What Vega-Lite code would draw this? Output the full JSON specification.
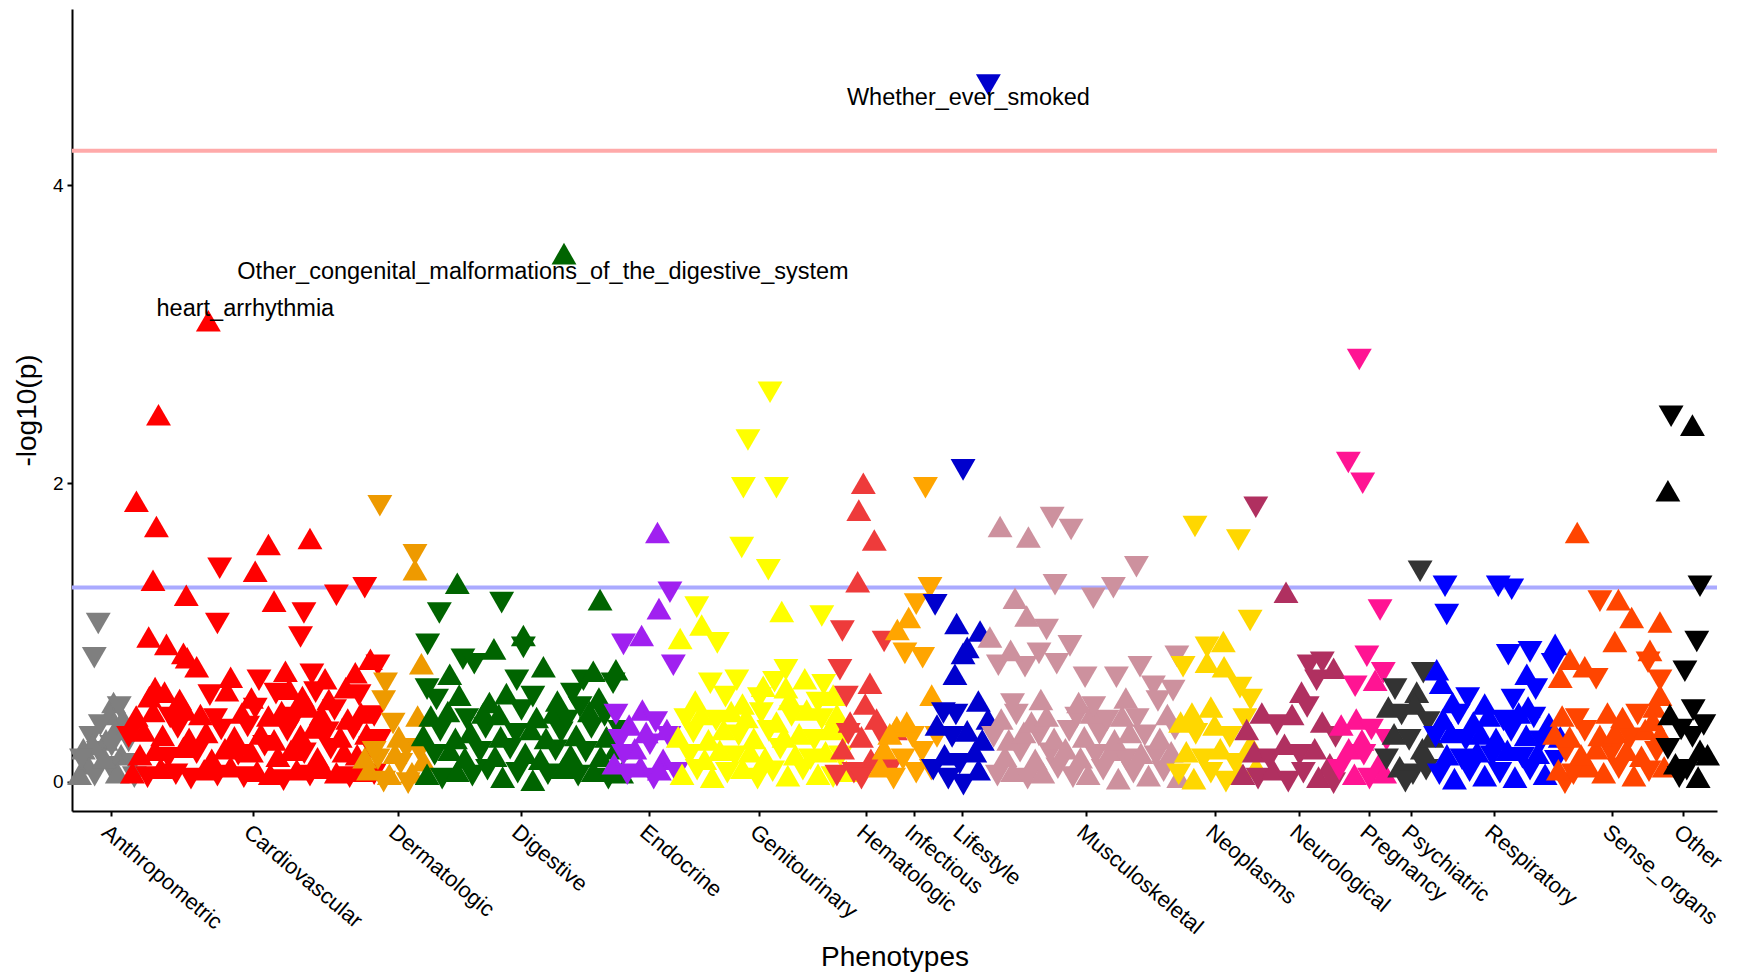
{
"$schema": "https://vega.github.io/schema/vega-lite/v6.json",
"width": 1645, "height": 802,
"autosize": {"type": "none"},
"padding": {"left": 72, "top": 9, "right": 23, "bottom": 164},
"background": "white",
"config": {"view": {"stroke": null}, "font": "Liberation Sans"},
"datasets": {"pts": [
{"c":"Anthropometric","x":13.9,"y":1.06,"s":"d"},{"c":"Anthropometric","x":11.8,"y":0.83,"s":"d"},
{"c":"Anthropometric","x":22,"y":0.53,"s":"u"},{"c":"Anthropometric","x":25,"y":0.5,"s":"d"},{"c":"Anthropometric","x":20,"y":0.45,"s":"u"},{"c":"Anthropometric","x":27,"y":0.42,"s":"u"},{"c":"Anthropometric","x":15,"y":0.38,"s":"d"},{"c":"Anthropometric","x":23,"y":0.35,"s":"u"},{"c":"Anthropometric","x":10,"y":0.3,"s":"d"},{"c":"Anthropometric","x":18,"y":0.28,"s":"u"},{"c":"Anthropometric","x":30,"y":0.27,"s":"d"},{"c":"Anthropometric","x":6,"y":0.22,"s":"u"},{"c":"Anthropometric","x":14,"y":0.2,"s":"d"},{"c":"Anthropometric","x":26,"y":0.18,"s":"u"},{"c":"Anthropometric","x":8,"y":0.12,"s":"u"},{"c":"Anthropometric","x":20,"y":0.1,"s":"d"},{"c":"Anthropometric","x":32,"y":0.12,"s":"d"},{"c":"Anthropometric","x":4,"y":0.05,"s":"u"},{"c":"Anthropometric","x":12,"y":0.04,"s":"d"},{"c":"Anthropometric","x":24,"y":0.06,"s":"u"},{"c":"Anthropometric","x":17,"y":0.16,"s":"u"},{"c":"Anthropometric","x":29,"y":0.36,"s":"u"},{"c":"Anthropometric","x":11,"y":0.25,"s":"u"},{"c":"Anthropometric","x":5,"y":0.15,"s":"d"},{"c":"Anthropometric","x":33,"y":0.03,"s":"d"},{"c":"Anthropometric","x":21,"y":0.24,"s":"d"},
{"c":"Cardiovascular","x":72.2,"y":3.09,"s":"u","n":"heart_arrhythmia"},
{"c":"Cardiovascular","x":45.8,"y":2.46,"s":"u"},{"c":"Cardiovascular","x":34.1,"y":1.88,"s":"u"},{"c":"Cardiovascular","x":44.7,"y":1.71,"s":"u"},{"c":"Cardiovascular","x":42.9,"y":1.35,"s":"u"},{"c":"Cardiovascular","x":60.5,"y":1.25,"s":"u"},{"c":"Cardiovascular","x":78.2,"y":1.43,"s":"d"},{"c":"Cardiovascular","x":77,"y":1.06,"s":"d"},{"c":"Cardiovascular","x":97,"y":1.41,"s":"u"},{"c":"Cardiovascular","x":104,"y":1.59,"s":"u"},{"c":"Cardiovascular","x":107,"y":1.21,"s":"u"},{"c":"Cardiovascular","x":122.8,"y":1.13,"s":"d"},{"c":"Cardiovascular","x":121,"y":0.97,"s":"d"},{"c":"Cardiovascular","x":126,"y":1.63,"s":"u"},{"c":"Cardiovascular","x":140,"y":1.25,"s":"d"},{"c":"Cardiovascular","x":155,"y":1.3,"s":"d"},{"c":"Cardiovascular","x":40.6,"y":0.97,"s":"u"},{"c":"Cardiovascular","x":50,"y":0.92,"s":"u"},{"c":"Cardiovascular","x":59,"y":0.86,"s":"u"},{"c":"Cardiovascular","x":61,"y":0.83,"s":"u"},{"c":"Cardiovascular","x":66,"y":0.77,"s":"u"},{"c":"Cardiovascular","x":44,"y":0.63,"s":"u"},{"c":"Cardiovascular","x":158,"y":0.82,"s":"u"},{"c":"Cardiovascular","x":162,"y":0.78,"s":"d"},
{"c":"Cardiovascular","x":32,"y":0.06,"s":"u"},{"c":"Cardiovascular","x":40,"y":0.03,"s":"d"},{"c":"Cardiovascular","x":47,"y":0.09,"s":"u"},{"c":"Cardiovascular","x":55,"y":0.05,"s":"d"},{"c":"Cardiovascular","x":63,"y":0.02,"s":"d"},{"c":"Cardiovascular","x":70,"y":0.08,"s":"u"},{"c":"Cardiovascular","x":77,"y":0.04,"s":"d"},{"c":"Cardiovascular","x":84,"y":0.1,"s":"u"},{"c":"Cardiovascular","x":91,"y":0.03,"s":"d"},{"c":"Cardiovascular","x":98,"y":0.07,"s":"u"},{"c":"Cardiovascular","x":105,"y":0.05,"s":"u"},{"c":"Cardiovascular","x":112,"y":0.01,"s":"d"},{"c":"Cardiovascular","x":119,"y":0.08,"s":"u"},{"c":"Cardiovascular","x":126,"y":0.04,"s":"d"},{"c":"Cardiovascular","x":133,"y":0.09,"s":"u"},{"c":"Cardiovascular","x":140,"y":0.06,"s":"u"},{"c":"Cardiovascular","x":147,"y":0.03,"s":"d"},{"c":"Cardiovascular","x":154,"y":0.07,"s":"u"},{"c":"Cardiovascular","x":160,"y":0.05,"s":"d"},
{"c":"Cardiovascular","x":36,"y":0.18,"s":"u"},{"c":"Cardiovascular","x":44,"y":0.21,"s":"u"},{"c":"Cardiovascular","x":51,"y":0.16,"s":"d"},{"c":"Cardiovascular","x":59,"y":0.23,"s":"u"},{"c":"Cardiovascular","x":66,"y":0.19,"s":"d"},{"c":"Cardiovascular","x":74,"y":0.15,"s":"u"},{"c":"Cardiovascular","x":81,"y":0.22,"s":"u"},{"c":"Cardiovascular","x":88,"y":0.18,"s":"d"},{"c":"Cardiovascular","x":95,"y":0.2,"s":"u"},{"c":"Cardiovascular","x":102,"y":0.24,"s":"d"},{"c":"Cardiovascular","x":109,"y":0.17,"s":"u"},{"c":"Cardiovascular","x":116,"y":0.21,"s":"u"},{"c":"Cardiovascular","x":123,"y":0.19,"s":"d"},{"c":"Cardiovascular","x":130,"y":0.16,"s":"u"},{"c":"Cardiovascular","x":137,"y":0.22,"s":"d"},{"c":"Cardiovascular","x":144,"y":0.2,"s":"u"},{"c":"Cardiovascular","x":151,"y":0.18,"s":"u"},{"c":"Cardiovascular","x":158,"y":0.23,"s":"d"},
{"c":"Cardiovascular","x":30,"y":0.3,"s":"d"},{"c":"Cardiovascular","x":38,"y":0.34,"s":"u"},{"c":"Cardiovascular","x":48,"y":0.31,"s":"u"},{"c":"Cardiovascular","x":56,"y":0.36,"s":"d"},{"c":"Cardiovascular","x":62,"y":0.29,"s":"u"},{"c":"Cardiovascular","x":71,"y":0.33,"s":"u"},{"c":"Cardiovascular","x":79,"y":0.35,"s":"d"},{"c":"Cardiovascular","x":86,"y":0.3,"s":"u"},{"c":"Cardiovascular","x":93,"y":0.37,"s":"d"},{"c":"Cardiovascular","x":100,"y":0.32,"s":"u"},{"c":"Cardiovascular","x":107,"y":0.28,"s":"u"},{"c":"Cardiovascular","x":114,"y":0.34,"s":"d"},{"c":"Cardiovascular","x":121,"y":0.31,"s":"u"},{"c":"Cardiovascular","x":128,"y":0.36,"s":"u"},{"c":"Cardiovascular","x":135,"y":0.33,"s":"d"},{"c":"Cardiovascular","x":142,"y":0.3,"s":"u"},{"c":"Cardiovascular","x":149,"y":0.35,"s":"d"},{"c":"Cardiovascular","x":156,"y":0.32,"s":"u"},{"c":"Cardiovascular","x":163,"y":0.28,"s":"d"},
{"c":"Cardiovascular","x":34,"y":0.44,"s":"u"},{"c":"Cardiovascular","x":43,"y":0.47,"s":"u"},{"c":"Cardiovascular","x":52,"y":0.43,"s":"d"},{"c":"Cardiovascular","x":60,"y":0.48,"s":"u"},{"c":"Cardiovascular","x":68,"y":0.45,"s":"u"},{"c":"Cardiovascular","x":76,"y":0.42,"s":"d"},{"c":"Cardiovascular","x":90,"y":0.46,"s":"u"},{"c":"Cardiovascular","x":97,"y":0.49,"s":"d"},{"c":"Cardiovascular","x":104,"y":0.44,"s":"u"},{"c":"Cardiovascular","x":111,"y":0.47,"s":"u"},{"c":"Cardiovascular","x":118,"y":0.43,"s":"d"},{"c":"Cardiovascular","x":125,"y":0.5,"s":"u"},{"c":"Cardiovascular","x":132,"y":0.45,"s":"u"},{"c":"Cardiovascular","x":139,"y":0.48,"s":"d"},{"c":"Cardiovascular","x":146,"y":0.42,"s":"u"},{"c":"Cardiovascular","x":153,"y":0.46,"s":"u"},{"c":"Cardiovascular","x":160,"y":0.44,"s":"d"},
{"c":"Cardiovascular","x":41,"y":0.57,"s":"u"},{"c":"Cardiovascular","x":49,"y":0.6,"s":"u"},{"c":"Cardiovascular","x":57,"y":0.55,"s":"u"},{"c":"Cardiovascular","x":73,"y":0.58,"s":"d"},{"c":"Cardiovascular","x":82,"y":0.61,"s":"u"},{"c":"Cardiovascular","x":95,"y":0.56,"s":"u"},{"c":"Cardiovascular","x":108,"y":0.59,"s":"d"},{"c":"Cardiovascular","x":115,"y":0.62,"s":"u"},{"c":"Cardiovascular","x":122,"y":0.57,"s":"u"},{"c":"Cardiovascular","x":129,"y":0.6,"s":"d"},{"c":"Cardiovascular","x":136,"y":0.55,"s":"u"},{"c":"Cardiovascular","x":145,"y":0.63,"s":"u"},{"c":"Cardiovascular","x":152,"y":0.58,"s":"d"},
{"c":"Cardiovascular","x":84,"y":0.7,"s":"u"},{"c":"Cardiovascular","x":99,"y":0.68,"s":"d"},{"c":"Cardiovascular","x":113,"y":0.74,"s":"u"},{"c":"Cardiovascular","x":127,"y":0.72,"s":"d"},{"c":"Cardiovascular","x":134,"y":0.69,"s":"u"},{"c":"Cardiovascular","x":150,"y":0.73,"s":"u"},
{"c":"Dermatologic","x":163,"y":1.85,"s":"d"},{"c":"Dermatologic","x":181.6,"y":1.52,"s":"d"},{"c":"Dermatologic","x":181.6,"y":1.42,"s":"u"},{"c":"Dermatologic","x":185,"y":0.79,"s":"u"},{"c":"Dermatologic","x":166,"y":0.66,"s":"d"},{"c":"Dermatologic","x":165,"y":0.54,"s":"d"},{"c":"Dermatologic","x":170,"y":0.39,"s":"d"},{"c":"Dermatologic","x":183,"y":0.44,"s":"u"},
{"c":"Dermatologic","x":157,"y":0.08,"s":"u"},{"c":"Dermatologic","x":162,"y":0.15,"s":"d"},{"c":"Dermatologic","x":168,"y":0.05,"s":"u"},{"c":"Dermatologic","x":174,"y":0.12,"s":"d"},{"c":"Dermatologic","x":180,"y":0.06,"s":"u"},{"c":"Dermatologic","x":186,"y":0.14,"s":"u"},{"c":"Dermatologic","x":160,"y":0.2,"s":"d"},{"c":"Dermatologic","x":171,"y":0.19,"s":"u"},{"c":"Dermatologic","x":177,"y":0.22,"s":"d"},{"c":"Dermatologic","x":184,"y":0.2,"s":"d"},{"c":"Dermatologic","x":165,"y":0.0,"s":"d"},{"c":"Dermatologic","x":178,"y":-0.01,"s":"d"},{"c":"Dermatologic","x":155,"y":0.16,"s":"u"},{"c":"Dermatologic","x":173,"y":0.3,"s":"u"},
{"c":"Digestive","x":260.5,"y":3.54,"s":"u","n":"Other_congenital_malformations_of_the_digestive_system"},
{"c":"Digestive","x":204,"y":1.33,"s":"u"},{"c":"Digestive","x":194.5,"y":1.13,"s":"d"},{"c":"Digestive","x":227.5,"y":1.2,"s":"d"},{"c":"Digestive","x":279.6,"y":1.22,"s":"u"},{"c":"Digestive","x":188.3,"y":0.92,"s":"d"},{"c":"Digestive","x":223.4,"y":0.89,"s":"u"},{"c":"Digestive","x":239,"y":0.98,"s":"u"},{"c":"Digestive","x":239,"y":0.9,"s":"d"},{"c":"Digestive","x":207,"y":0.82,"s":"d"},{"c":"Digestive","x":213,"y":0.79,"s":"d"},{"c":"Digestive","x":200,"y":0.72,"s":"u"},{"c":"Digestive","x":235.5,"y":0.68,"s":"d"},{"c":"Digestive","x":249.6,"y":0.77,"s":"u"},{"c":"Digestive","x":230,"y":0.59,"s":"u"},{"c":"Digestive","x":270.8,"y":0.68,"s":"d"},{"c":"Digestive","x":276,"y":0.74,"s":"u"},{"c":"Digestive","x":288,"y":0.75,"s":"u"},{"c":"Digestive","x":286.5,"y":0.66,"s":"d"},{"c":"Digestive","x":269,"y":0.5,"s":"d"},{"c":"Digestive","x":217.8,"y":0.46,"s":"u"},{"c":"Digestive","x":188,"y":0.62,"s":"d"},
{"c":"Digestive","x":188,"y":0.05,"s":"u"},{"c":"Digestive","x":196,"y":0.02,"s":"d"},{"c":"Digestive","x":204,"y":0.07,"s":"u"},{"c":"Digestive","x":212,"y":0.04,"s":"d"},{"c":"Digestive","x":220,"y":0.08,"s":"d"},{"c":"Digestive","x":228,"y":0.03,"s":"u"},{"c":"Digestive","x":236,"y":0.06,"s":"d"},{"c":"Digestive","x":244,"y":0.01,"s":"u"},{"c":"Digestive","x":252,"y":0.05,"s":"d"},{"c":"Digestive","x":260,"y":0.09,"s":"u"},{"c":"Digestive","x":268,"y":0.04,"s":"d"},{"c":"Digestive","x":276,"y":0.07,"s":"u"},{"c":"Digestive","x":284,"y":0.02,"s":"d"},{"c":"Digestive","x":291,"y":0.06,"s":"u"},
{"c":"Digestive","x":192,"y":0.18,"s":"d"},{"c":"Digestive","x":200,"y":0.21,"s":"u"},{"c":"Digestive","x":208,"y":0.16,"s":"u"},{"c":"Digestive","x":216,"y":0.2,"s":"d"},{"c":"Digestive","x":224,"y":0.17,"s":"u"},{"c":"Digestive","x":232,"y":0.22,"s":"d"},{"c":"Digestive","x":240,"y":0.19,"s":"u"},{"c":"Digestive","x":248,"y":0.15,"s":"u"},{"c":"Digestive","x":256,"y":0.21,"s":"d"},{"c":"Digestive","x":264,"y":0.18,"s":"u"},{"c":"Digestive","x":272,"y":0.2,"s":"d"},{"c":"Digestive","x":280,"y":0.17,"s":"u"},{"c":"Digestive","x":288,"y":0.22,"s":"u"},
{"c":"Digestive","x":186,"y":0.31,"s":"u"},{"c":"Digestive","x":195,"y":0.34,"s":"d"},{"c":"Digestive","x":203,"y":0.29,"s":"u"},{"c":"Digestive","x":211,"y":0.33,"s":"u"},{"c":"Digestive","x":219,"y":0.36,"s":"d"},{"c":"Digestive","x":227,"y":0.3,"s":"u"},{"c":"Digestive","x":235,"y":0.32,"s":"d"},{"c":"Digestive","x":243,"y":0.35,"s":"u"},{"c":"Digestive","x":251,"y":0.29,"s":"u"},{"c":"Digestive","x":259,"y":0.33,"s":"d"},{"c":"Digestive","x":267,"y":0.31,"s":"u"},{"c":"Digestive","x":275,"y":0.36,"s":"d"},{"c":"Digestive","x":283,"y":0.3,"s":"u"},{"c":"Digestive","x":290,"y":0.34,"s":"d"},
{"c":"Digestive","x":190,"y":0.44,"s":"u"},{"c":"Digestive","x":199,"y":0.47,"s":"u"},{"c":"Digestive","x":209,"y":0.42,"s":"d"},{"c":"Digestive","x":226,"y":0.45,"s":"u"},{"c":"Digestive","x":238,"y":0.48,"s":"d"},{"c":"Digestive","x":246,"y":0.43,"s":"u"},{"c":"Digestive","x":255,"y":0.46,"s":"u"},{"c":"Digestive","x":262,"y":0.41,"s":"d"},{"c":"Digestive","x":274,"y":0.47,"s":"u"},{"c":"Digestive","x":282,"y":0.44,"s":"d"},
{"c":"Digestive","x":193,"y":0.55,"s":"d"},{"c":"Digestive","x":205,"y":0.58,"s":"u"},{"c":"Digestive","x":221,"y":0.53,"s":"u"},{"c":"Digestive","x":244,"y":0.57,"s":"d"},{"c":"Digestive","x":257,"y":0.54,"s":"u"},{"c":"Digestive","x":265,"y":0.59,"s":"d"},{"c":"Digestive","x":279,"y":0.56,"s":"u"},
{"c":"Endocrine","x":310,"y":1.67,"s":"u"},{"c":"Endocrine","x":316.6,"y":1.27,"s":"d"},{"c":"Endocrine","x":310.8,"y":1.16,"s":"u"},{"c":"Endocrine","x":301.6,"y":0.98,"s":"u"},{"c":"Endocrine","x":318.4,"y":0.78,"s":"d"},{"c":"Endocrine","x":292,"y":0.92,"s":"d"},
{"c":"Endocrine","x":288,"y":0.45,"s":"d"},{"c":"Endocrine","x":295,"y":0.38,"s":"u"},{"c":"Endocrine","x":302,"y":0.48,"s":"u"},{"c":"Endocrine","x":309,"y":0.4,"s":"d"},{"c":"Endocrine","x":316,"y":0.3,"s":"d"},{"c":"Endocrine","x":290,"y":0.28,"s":"d"},{"c":"Endocrine","x":298,"y":0.22,"s":"u"},{"c":"Endocrine","x":306,"y":0.25,"s":"d"},{"c":"Endocrine","x":313,"y":0.15,"s":"u"},{"c":"Endocrine","x":320,"y":0.06,"s":"d"},{"c":"Endocrine","x":287,"y":0.12,"s":"u"},{"c":"Endocrine","x":294,"y":0.05,"s":"d"},{"c":"Endocrine","x":301,"y":0.1,"s":"u"},{"c":"Endocrine","x":308,"y":0.02,"s":"d"},{"c":"Endocrine","x":315,"y":0.35,"s":"u"},{"c":"Endocrine","x":292,"y":0.18,"s":"d"},{"c":"Endocrine","x":304,"y":0.33,"s":"u"},{"c":"Endocrine","x":311,"y":0.08,"s":"u"},
{"c":"Genitourinary","x":369.6,"y":2.61,"s":"d"},{"c":"Genitourinary","x":357.9,"y":2.29,"s":"d"},{"c":"Genitourinary","x":355.5,"y":1.97,"s":"d"},{"c":"Genitourinary","x":373,"y":1.97,"s":"d"},{"c":"Genitourinary","x":354.6,"y":1.57,"s":"d"},{"c":"Genitourinary","x":368.7,"y":1.42,"s":"d"},{"c":"Genitourinary","x":375.8,"y":1.14,"s":"u"},{"c":"Genitourinary","x":397,"y":1.11,"s":"d"},{"c":"Genitourinary","x":330.8,"y":1.17,"s":"d"},{"c":"Genitourinary","x":333.4,"y":1.05,"s":"u"},{"c":"Genitourinary","x":341.7,"y":0.93,"s":"d"},{"c":"Genitourinary","x":322,"y":0.96,"s":"u"},{"c":"Genitourinary","x":378,"y":0.75,"s":"d"},{"c":"Genitourinary","x":378,"y":0.63,"s":"u"},
{"c":"Genitourinary","x":323,"y":0.05,"s":"u"},{"c":"Genitourinary","x":331,"y":0.08,"s":"d"},{"c":"Genitourinary","x":339,"y":0.03,"s":"u"},{"c":"Genitourinary","x":347,"y":0.06,"s":"d"},{"c":"Genitourinary","x":355,"y":0.09,"s":"u"},{"c":"Genitourinary","x":363,"y":0.02,"s":"d"},{"c":"Genitourinary","x":371,"y":0.07,"s":"d"},{"c":"Genitourinary","x":379,"y":0.04,"s":"u"},{"c":"Genitourinary","x":387,"y":0.08,"s":"d"},{"c":"Genitourinary","x":395,"y":0.05,"s":"u"},{"c":"Genitourinary","x":403,"y":0.03,"s":"d"},{"c":"Genitourinary","x":410,"y":0.07,"s":"u"},
{"c":"Genitourinary","x":327,"y":0.18,"s":"d"},{"c":"Genitourinary","x":335,"y":0.15,"s":"u"},{"c":"Genitourinary","x":343,"y":0.21,"s":"u"},{"c":"Genitourinary","x":351,"y":0.17,"s":"d"},{"c":"Genitourinary","x":359,"y":0.2,"s":"u"},{"c":"Genitourinary","x":367,"y":0.16,"s":"u"},{"c":"Genitourinary","x":375,"y":0.22,"s":"d"},{"c":"Genitourinary","x":383,"y":0.18,"s":"u"},{"c":"Genitourinary","x":391,"y":0.15,"s":"d"},{"c":"Genitourinary","x":399,"y":0.2,"s":"u"},{"c":"Genitourinary","x":407,"y":0.17,"s":"d"},
{"c":"Genitourinary","x":321,"y":0.3,"s":"u"},{"c":"Genitourinary","x":329,"y":0.33,"s":"d"},{"c":"Genitourinary","x":337,"y":0.28,"s":"u"},{"c":"Genitourinary","x":345,"y":0.35,"s":"u"},{"c":"Genitourinary","x":353,"y":0.31,"s":"d"},{"c":"Genitourinary","x":361,"y":0.29,"s":"u"},{"c":"Genitourinary","x":369,"y":0.34,"s":"d"},{"c":"Genitourinary","x":377,"y":0.3,"s":"u"},{"c":"Genitourinary","x":385,"y":0.32,"s":"u"},{"c":"Genitourinary","x":393,"y":0.28,"s":"d"},{"c":"Genitourinary","x":401,"y":0.35,"s":"u"},{"c":"Genitourinary","x":409,"y":0.31,"s":"d"},
{"c":"Genitourinary","x":325,"y":0.42,"s":"d"},{"c":"Genitourinary","x":333,"y":0.45,"s":"u"},{"c":"Genitourinary","x":341,"y":0.41,"s":"d"},{"c":"Genitourinary","x":349,"y":0.47,"s":"u"},{"c":"Genitourinary","x":357,"y":0.43,"s":"u"},{"c":"Genitourinary","x":365,"y":0.46,"s":"d"},{"c":"Genitourinary","x":373,"y":0.4,"s":"u"},{"c":"Genitourinary","x":381,"y":0.44,"s":"d"},{"c":"Genitourinary","x":389,"y":0.48,"s":"u"},{"c":"Genitourinary","x":397,"y":0.42,"s":"d"},{"c":"Genitourinary","x":405,"y":0.45,"s":"u"},
{"c":"Genitourinary","x":330,"y":0.54,"s":"u"},{"c":"Genitourinary","x":346,"y":0.57,"s":"d"},{"c":"Genitourinary","x":355,"y":0.52,"s":"u"},{"c":"Genitourinary","x":364,"y":0.56,"s":"d"},{"c":"Genitourinary","x":380,"y":0.55,"s":"u"},{"c":"Genitourinary","x":395,"y":0.53,"s":"d"},{"c":"Genitourinary","x":403,"y":0.58,"s":"u"},
{"c":"Genitourinary","x":338,"y":0.66,"s":"d"},{"c":"Genitourinary","x":352,"y":0.68,"s":"d"},{"c":"Genitourinary","x":366,"y":0.64,"s":"u"},{"c":"Genitourinary","x":372,"y":0.67,"s":"d"},{"c":"Genitourinary","x":388,"y":0.69,"s":"u"},{"c":"Genitourinary","x":398,"y":0.65,"s":"d"},
{"c":"Hematologic","x":419,"y":2.0,"s":"u"},{"c":"Hematologic","x":416.6,"y":1.82,"s":"u"},{"c":"Hematologic","x":424.8,"y":1.62,"s":"u"},{"c":"Hematologic","x":416,"y":1.34,"s":"u"},{"c":"Hematologic","x":407.9,"y":1.01,"s":"d"},{"c":"Hematologic","x":430,"y":0.94,"s":"d"},{"c":"Hematologic","x":406.6,"y":0.75,"s":"d"},{"c":"Hematologic","x":410,"y":0.57,"s":"d"},{"c":"Hematologic","x":422.5,"y":0.66,"s":"u"},
{"c":"Hematologic","x":420,"y":0.52,"s":"u"},{"c":"Hematologic","x":426,"y":0.42,"s":"u"},{"c":"Hematologic","x":412,"y":0.4,"s":"u"},{"c":"Hematologic","x":418,"y":0.3,"s":"u"},{"c":"Hematologic","x":430,"y":0.28,"s":"d"},{"c":"Hematologic","x":408,"y":0.22,"s":"u"},{"c":"Hematologic","x":423,"y":0.15,"s":"u"},{"c":"Hematologic","x":414,"y":0.06,"s":"d"},{"c":"Hematologic","x":433,"y":0.08,"s":"d"},{"c":"Hematologic","x":428,"y":0.18,"s":"u"},{"c":"Hematologic","x":405,"y":0.04,"s":"d"},{"c":"Hematologic","x":418,"y":0.02,"s":"d"},{"c":"Hematologic","x":436,"y":0.35,"s":"u"},{"c":"Hematologic","x":411,"y":0.32,"s":"d"},
{"c":"Infectious","x":451.9,"y":1.97,"s":"d"},{"c":"Infectious","x":454.3,"y":1.3,"s":"d"},{"c":"Infectious","x":447,"y":1.19,"s":"d"},{"c":"Infectious","x":443,"y":1.1,"s":"u"},{"c":"Infectious","x":437,"y":1.02,"s":"u"},{"c":"Infectious","x":450.4,"y":0.83,"s":"d"},{"c":"Infectious","x":455.2,"y":0.58,"s":"u"},{"c":"Infectious","x":441,"y":0.86,"s":"d"},
{"c":"Infectious","x":436.7,"y":0.37,"s":"u"},{"c":"Infectious","x":445,"y":0.3,"s":"d"},{"c":"Infectious","x":430,"y":0.22,"s":"u"},{"c":"Infectious","x":440,"y":0.15,"s":"d"},{"c":"Infectious","x":450,"y":0.2,"s":"d"},{"c":"Infectious","x":455,"y":0.08,"s":"d"},{"c":"Infectious","x":447,"y":0.06,"s":"d"},{"c":"Infectious","x":435,"y":0.02,"s":"d"},{"c":"Infectious","x":428,"y":0.1,"s":"u"},{"c":"Infectious","x":442,"y":0.4,"s":"u"},{"c":"Infectious","x":458,"y":0.3,"s":"d"},{"c":"Infectious","x":433,"y":0.32,"s":"u"},
{"c":"Lifestyle","x":485.2,"y":4.67,"s":"d","n":"Whether_ever_smoked"},
{"c":"Lifestyle","x":471.8,"y":2.09,"s":"d"},{"c":"Lifestyle","x":457,"y":1.185,"s":"d"},{"c":"Lifestyle","x":468.4,"y":1.06,"s":"u"},{"c":"Lifestyle","x":480.8,"y":1.01,"s":"u"},{"c":"Lifestyle","x":471.8,"y":0.86,"s":"u"},{"c":"Lifestyle","x":474,"y":0.9,"s":"u"},{"c":"Lifestyle","x":467.5,"y":0.72,"s":"u"},{"c":"Lifestyle","x":479.9,"y":0.54,"s":"u"},{"c":"Lifestyle","x":461.4,"y":0.46,"s":"d"},
{"c":"Lifestyle","x":458,"y":0.38,"s":"u"},{"c":"Lifestyle","x":466,"y":0.3,"s":"d"},{"c":"Lifestyle","x":474,"y":0.34,"s":"u"},{"c":"Lifestyle","x":482,"y":0.28,"s":"u"},{"c":"Lifestyle","x":462,"y":0.18,"s":"u"},{"c":"Lifestyle","x":470,"y":0.12,"s":"d"},{"c":"Lifestyle","x":478,"y":0.2,"s":"u"},{"c":"Lifestyle","x":456,"y":0.08,"s":"d"},{"c":"Lifestyle","x":464,"y":0.02,"s":"d"},{"c":"Lifestyle","x":472,"y":-0.02,"s":"d"},{"c":"Lifestyle","x":480,"y":0.08,"s":"u"},{"c":"Lifestyle","x":485,"y":0.42,"s":"u"},{"c":"Lifestyle","x":468,"y":0.45,"s":"d"},
{"c":"Musculoskeletal","x":491.4,"y":1.71,"s":"u"},{"c":"Musculoskeletal","x":506.4,"y":1.64,"s":"u"},{"c":"Musculoskeletal","x":519,"y":1.77,"s":"d"},{"c":"Musculoskeletal","x":529,"y":1.69,"s":"d"},{"c":"Musculoskeletal","x":563.6,"y":1.44,"s":"d"},{"c":"Musculoskeletal","x":520.5,"y":1.32,"s":"d"},{"c":"Musculoskeletal","x":551.4,"y":1.3,"s":"d"},{"c":"Musculoskeletal","x":540.8,"y":1.23,"s":"d"},{"c":"Musculoskeletal","x":499.3,"y":1.23,"s":"u"},{"c":"Musculoskeletal","x":505.5,"y":1.11,"s":"u"},{"c":"Musculoskeletal","x":516,"y":1.02,"s":"d"},{"c":"Musculoskeletal","x":486,"y":0.97,"s":"u"},{"c":"Musculoskeletal","x":528.4,"y":0.91,"s":"d"},{"c":"Musculoskeletal","x":490.5,"y":0.78,"s":"d"},{"c":"Musculoskeletal","x":504.6,"y":0.77,"s":"d"},{"c":"Musculoskeletal","x":521.4,"y":0.79,"s":"d"},{"c":"Musculoskeletal","x":536.4,"y":0.7,"s":"d"},{"c":"Musculoskeletal","x":553,"y":0.7,"s":"d"},{"c":"Musculoskeletal","x":565.5,"y":0.77,"s":"d"},{"c":"Musculoskeletal","x":572.6,"y":0.64,"s":"d"},{"c":"Musculoskeletal","x":585,"y":0.84,"s":"d"},{"c":"Musculoskeletal","x":583,"y":0.61,"s":"d"},{"c":"Musculoskeletal","x":497,"y":0.88,"s":"u"},{"c":"Musculoskeletal","x":512,"y":0.86,"s":"d"},
{"c":"Musculoskeletal","x":490,"y":0.04,"s":"d"},{"c":"Musculoskeletal","x":498,"y":0.07,"s":"u"},{"c":"Musculoskeletal","x":506,"y":0.02,"s":"d"},{"c":"Musculoskeletal","x":514,"y":0.06,"s":"u"},{"c":"Musculoskeletal","x":522,"y":0.09,"s":"d"},{"c":"Musculoskeletal","x":530,"y":0.03,"s":"d"},{"c":"Musculoskeletal","x":538,"y":0.05,"s":"u"},{"c":"Musculoskeletal","x":546,"y":0.08,"s":"d"},{"c":"Musculoskeletal","x":554,"y":0.02,"s":"u"},{"c":"Musculoskeletal","x":562,"y":0.06,"s":"d"},{"c":"Musculoskeletal","x":570,"y":0.04,"s":"u"},{"c":"Musculoskeletal","x":578,"y":0.07,"s":"d"},{"c":"Musculoskeletal","x":586,"y":0.03,"s":"u"},
{"c":"Musculoskeletal","x":494,"y":0.17,"s":"u"},{"c":"Musculoskeletal","x":502,"y":0.2,"s":"d"},{"c":"Musculoskeletal","x":510,"y":0.15,"s":"u"},{"c":"Musculoskeletal","x":518,"y":0.19,"s":"d"},{"c":"Musculoskeletal","x":526,"y":0.22,"s":"u"},{"c":"Musculoskeletal","x":534,"y":0.16,"s":"u"},{"c":"Musculoskeletal","x":542,"y":0.18,"s":"d"},{"c":"Musculoskeletal","x":550,"y":0.21,"s":"u"},{"c":"Musculoskeletal","x":558,"y":0.15,"s":"d"},{"c":"Musculoskeletal","x":566,"y":0.19,"s":"u"},{"c":"Musculoskeletal","x":574,"y":0.17,"s":"d"},{"c":"Musculoskeletal","x":582,"y":0.2,"s":"u"},
{"c":"Musculoskeletal","x":488,"y":0.3,"s":"d"},{"c":"Musculoskeletal","x":496,"y":0.28,"s":"u"},{"c":"Musculoskeletal","x":504,"y":0.33,"s":"u"},{"c":"Musculoskeletal","x":512,"y":0.31,"s":"d"},{"c":"Musculoskeletal","x":520,"y":0.29,"s":"u"},{"c":"Musculoskeletal","x":528,"y":0.34,"s":"d"},{"c":"Musculoskeletal","x":536,"y":0.3,"s":"u"},{"c":"Musculoskeletal","x":544,"y":0.32,"s":"d"},{"c":"Musculoskeletal","x":552,"y":0.28,"s":"u"},{"c":"Musculoskeletal","x":560,"y":0.33,"s":"u"},{"c":"Musculoskeletal","x":568,"y":0.31,"s":"d"},{"c":"Musculoskeletal","x":576,"y":0.29,"s":"u"},{"c":"Musculoskeletal","x":584,"y":0.35,"s":"d"},
{"c":"Musculoskeletal","x":492,"y":0.42,"s":"u"},{"c":"Musculoskeletal","x":500,"y":0.45,"s":"d"},{"c":"Musculoskeletal","x":508,"y":0.4,"s":"u"},{"c":"Musculoskeletal","x":516,"y":0.44,"s":"u"},{"c":"Musculoskeletal","x":532,"y":0.43,"s":"d"},{"c":"Musculoskeletal","x":540,"y":0.46,"s":"u"},{"c":"Musculoskeletal","x":548,"y":0.41,"s":"d"},{"c":"Musculoskeletal","x":556,"y":0.44,"s":"u"},{"c":"Musculoskeletal","x":564,"y":0.42,"s":"d"},{"c":"Musculoskeletal","x":580,"y":0.45,"s":"u"},
{"c":"Musculoskeletal","x":498,"y":0.52,"s":"d"},{"c":"Musculoskeletal","x":513,"y":0.55,"s":"u"},{"c":"Musculoskeletal","x":533,"y":0.53,"s":"u"},{"c":"Musculoskeletal","x":541,"y":0.5,"s":"d"},{"c":"Musculoskeletal","x":558,"y":0.56,"s":"u"},{"c":"Musculoskeletal","x":575,"y":0.54,"s":"d"},
{"c":"Neoplasms","x":594.6,"y":1.71,"s":"d"},{"c":"Neoplasms","x":617.6,"y":1.62,"s":"d"},{"c":"Neoplasms","x":623.8,"y":1.08,"s":"d"},{"c":"Neoplasms","x":609.6,"y":0.94,"s":"u"},{"c":"Neoplasms","x":601,"y":0.9,"s":"d"},{"c":"Neoplasms","x":601,"y":0.8,"s":"u"},{"c":"Neoplasms","x":588.3,"y":0.77,"s":"d"},{"c":"Neoplasms","x":610,"y":0.77,"s":"u"},{"c":"Neoplasms","x":618.4,"y":0.63,"s":"d"},{"c":"Neoplasms","x":624,"y":0.55,"s":"d"},{"c":"Neoplasms","x":603,"y":0.5,"s":"u"},{"c":"Neoplasms","x":593,"y":0.46,"s":"u"},
{"c":"Neoplasms","x":587,"y":0.4,"s":"u"},{"c":"Neoplasms","x":595,"y":0.32,"s":"d"},{"c":"Neoplasms","x":605,"y":0.38,"s":"u"},{"c":"Neoplasms","x":613,"y":0.3,"s":"d"},{"c":"Neoplasms","x":621,"y":0.42,"s":"d"},{"c":"Neoplasms","x":590,"y":0.2,"s":"u"},{"c":"Neoplasms","x":599,"y":0.15,"s":"d"},{"c":"Neoplasms","x":608,"y":0.22,"s":"u"},{"c":"Neoplasms","x":616,"y":0.12,"s":"d"},{"c":"Neoplasms","x":624,"y":0.25,"s":"u"},{"c":"Neoplasms","x":586,"y":0.05,"s":"d"},{"c":"Neoplasms","x":594,"y":0.02,"s":"u"},{"c":"Neoplasms","x":603,"y":0.06,"s":"d"},{"c":"Neoplasms","x":611,"y":0.0,"s":"d"},{"c":"Neoplasms","x":619,"y":0.05,"s":"u"},{"c":"Neoplasms","x":627,"y":0.1,"s":"u"},
{"c":"Neurological","x":626.8,"y":1.84,"s":"d"},{"c":"Neurological","x":642.8,"y":1.27,"s":"u"},{"c":"Neurological","x":655,"y":0.78,"s":"d"},{"c":"Neurological","x":662,"y":0.8,"s":"d"},{"c":"Neurological","x":668,"y":0.76,"s":"u"},{"c":"Neurological","x":659,"y":0.68,"s":"d"},{"c":"Neurological","x":651,"y":0.6,"s":"u"},
{"c":"Neurological","x":622,"y":0.35,"s":"u"},{"c":"Neurological","x":630,"y":0.46,"s":"u"},{"c":"Neurological","x":638,"y":0.38,"s":"d"},{"c":"Neurological","x":646,"y":0.45,"s":"u"},{"c":"Neurological","x":654,"y":0.5,"s":"d"},{"c":"Neurological","x":662,"y":0.4,"s":"u"},{"c":"Neurological","x":669,"y":0.3,"s":"d"},{"c":"Neurological","x":626,"y":0.2,"s":"u"},{"c":"Neurological","x":634,"y":0.15,"s":"d"},{"c":"Neurological","x":642,"y":0.25,"s":"u"},{"c":"Neurological","x":650,"y":0.18,"s":"d"},{"c":"Neurological","x":658,"y":0.22,"s":"u"},{"c":"Neurological","x":666,"y":0.12,"s":"u"},{"c":"Neurological","x":620,"y":0.05,"s":"u"},{"c":"Neurological","x":628,"y":0.02,"s":"d"},{"c":"Neurological","x":636,"y":0.08,"s":"u"},{"c":"Neurological","x":644,"y":0.0,"s":"d"},{"c":"Neurological","x":652,"y":0.06,"s":"d"},{"c":"Neurological","x":660,"y":0.03,"s":"u"},{"c":"Neurological","x":668,"y":-0.01,"s":"d"},
{"c":"Pregnancy","x":681.6,"y":2.83,"s":"d"},{"c":"Pregnancy","x":675.8,"y":2.14,"s":"d"},{"c":"Pregnancy","x":683.4,"y":2.0,"s":"d"},{"c":"Pregnancy","x":692.6,"y":1.15,"s":"d"},{"c":"Pregnancy","x":685.6,"y":0.84,"s":"d"},{"c":"Pregnancy","x":679.4,"y":0.64,"s":"d"},{"c":"Pregnancy","x":694.3,"y":0.73,"s":"d"},{"c":"Pregnancy","x":690,"y":0.68,"s":"u"},
{"c":"Pregnancy","x":672,"y":0.38,"s":"u"},{"c":"Pregnancy","x":680,"y":0.42,"s":"u"},{"c":"Pregnancy","x":688,"y":0.35,"s":"d"},{"c":"Pregnancy","x":696,"y":0.28,"s":"d"},{"c":"Pregnancy","x":676,"y":0.22,"s":"u"},{"c":"Pregnancy","x":684,"y":0.18,"s":"d"},{"c":"Pregnancy","x":692,"y":0.12,"s":"u"},{"c":"Pregnancy","x":671,"y":0.08,"s":"d"},{"c":"Pregnancy","x":679,"y":0.05,"s":"u"},{"c":"Pregnancy","x":687,"y":0.02,"s":"d"},{"c":"Pregnancy","x":695,"y":0.06,"s":"u"},{"c":"Pregnancy","x":683,"y":0.28,"s":"u"},
{"c":"Psychiatric","x":713.8,"y":1.41,"s":"d"},{"c":"Psychiatric","x":715.5,"y":0.73,"s":"d"},{"c":"Psychiatric","x":700.5,"y":0.62,"s":"d"},{"c":"Psychiatric","x":712,"y":0.6,"s":"u"},
{"c":"Psychiatric","x":697,"y":0.5,"s":"u"},{"c":"Psychiatric","x":704,"y":0.45,"s":"d"},{"c":"Psychiatric","x":711,"y":0.52,"s":"u"},{"c":"Psychiatric","x":718,"y":0.4,"s":"d"},{"c":"Psychiatric","x":700,"y":0.32,"s":"u"},{"c":"Psychiatric","x":708,"y":0.28,"s":"d"},{"c":"Psychiatric","x":715,"y":0.22,"s":"u"},{"c":"Psychiatric","x":696,"y":0.15,"s":"d"},{"c":"Psychiatric","x":703,"y":0.1,"s":"u"},{"c":"Psychiatric","x":710,"y":0.05,"s":"d"},{"c":"Psychiatric","x":717,"y":0.08,"s":"d"},{"c":"Psychiatric","x":706,"y":0.0,"s":"d"},{"c":"Psychiatric","x":720,"y":0.3,"s":"u"},
{"c":"Respiratory","x":727,"y":1.31,"s":"d"},{"c":"Respiratory","x":727.9,"y":1.12,"s":"d"},{"c":"Respiratory","x":755.2,"y":1.31,"s":"d"},{"c":"Respiratory","x":762.3,"y":1.29,"s":"d"},{"c":"Respiratory","x":760.5,"y":0.85,"s":"d"},{"c":"Respiratory","x":772,"y":0.87,"s":"d"},{"c":"Respiratory","x":785.3,"y":0.92,"s":"u"},{"c":"Respiratory","x":784.3,"y":0.79,"s":"d"},{"c":"Respiratory","x":770.3,"y":0.72,"s":"u"},{"c":"Respiratory","x":722.6,"y":0.75,"s":"u"},{"c":"Respiratory","x":775,"y":0.62,"s":"d"},{"c":"Respiratory","x":725,"y":0.66,"s":"u"},
{"c":"Respiratory","x":724,"y":0.05,"s":"d"},{"c":"Respiratory","x":732,"y":0.02,"s":"u"},{"c":"Respiratory","x":740,"y":0.07,"s":"d"},{"c":"Respiratory","x":748,"y":0.04,"s":"u"},{"c":"Respiratory","x":756,"y":0.06,"s":"d"},{"c":"Respiratory","x":764,"y":0.03,"s":"u"},{"c":"Respiratory","x":772,"y":0.08,"s":"d"},{"c":"Respiratory","x":780,"y":0.05,"s":"u"},
{"c":"Respiratory","x":728,"y":0.18,"s":"u"},{"c":"Respiratory","x":736,"y":0.15,"s":"d"},{"c":"Respiratory","x":744,"y":0.2,"s":"u"},{"c":"Respiratory","x":752,"y":0.17,"s":"d"},{"c":"Respiratory","x":760,"y":0.21,"s":"u"},{"c":"Respiratory","x":768,"y":0.16,"s":"d"},{"c":"Respiratory","x":776,"y":0.19,"s":"u"},{"c":"Respiratory","x":786,"y":0.14,"s":"d"},
{"c":"Respiratory","x":722,"y":0.3,"s":"d"},{"c":"Respiratory","x":730,"y":0.33,"s":"u"},{"c":"Respiratory","x":738,"y":0.28,"s":"d"},{"c":"Respiratory","x":746,"y":0.32,"s":"u"},{"c":"Respiratory","x":754,"y":0.29,"s":"u"},{"c":"Respiratory","x":762,"y":0.34,"s":"d"},{"c":"Respiratory","x":770,"y":0.31,"s":"u"},{"c":"Respiratory","x":778,"y":0.27,"s":"d"},{"c":"Respiratory","x":788,"y":0.3,"s":"u"},
{"c":"Respiratory","x":726,"y":0.42,"s":"u"},{"c":"Respiratory","x":734,"y":0.45,"s":"d"},{"c":"Respiratory","x":742,"y":0.4,"s":"u"},{"c":"Respiratory","x":750,"y":0.44,"s":"u"},{"c":"Respiratory","x":758,"y":0.41,"s":"d"},{"c":"Respiratory","x":766,"y":0.46,"s":"u"},{"c":"Respiratory","x":774,"y":0.43,"s":"d"},{"c":"Respiratory","x":782,"y":0.39,"s":"u"},
{"c":"Respiratory","x":731,"y":0.53,"s":"u"},{"c":"Respiratory","x":739,"y":0.56,"s":"d"},{"c":"Respiratory","x":748,"y":0.52,"s":"u"},{"c":"Respiratory","x":763,"y":0.55,"s":"d"},{"c":"Respiratory","x":771,"y":0.5,"s":"u"},
{"c":"Sense_organs","x":797,"y":1.67,"s":"u"},{"c":"Sense_organs","x":809,"y":1.21,"s":"d"},{"c":"Sense_organs","x":818.8,"y":1.22,"s":"u"},{"c":"Sense_organs","x":825.8,"y":1.1,"s":"u"},{"c":"Sense_organs","x":840.8,"y":1.07,"s":"u"},{"c":"Sense_organs","x":816.9,"y":0.94,"s":"u"},{"c":"Sense_organs","x":835.5,"y":0.88,"s":"u"},{"c":"Sense_organs","x":834.5,"y":0.8,"s":"d"},{"c":"Sense_organs","x":793.2,"y":0.82,"s":"u"},{"c":"Sense_organs","x":801,"y":0.77,"s":"u"},{"c":"Sense_organs","x":807,"y":0.69,"s":"d"},{"c":"Sense_organs","x":788,"y":0.7,"s":"u"},{"c":"Sense_organs","x":840.8,"y":0.68,"s":"d"},{"c":"Sense_organs","x":840.8,"y":0.58,"s":"u"},{"c":"Sense_organs","x":838,"y":0.5,"s":"u"},{"c":"Sense_organs","x":790.5,"y":-0.01,"s":"d"},
{"c":"Sense_organs","x":787,"y":0.08,"s":"u"},{"c":"Sense_organs","x":795,"y":0.05,"s":"d"},{"c":"Sense_organs","x":803,"y":0.1,"s":"u"},{"c":"Sense_organs","x":811,"y":0.06,"s":"u"},{"c":"Sense_organs","x":819,"y":0.09,"s":"d"},{"c":"Sense_organs","x":827,"y":0.04,"s":"u"},{"c":"Sense_organs","x":835,"y":0.07,"s":"d"},{"c":"Sense_organs","x":843,"y":0.1,"s":"u"},
{"c":"Sense_organs","x":791,"y":0.2,"s":"d"},{"c":"Sense_organs","x":799,"y":0.18,"s":"u"},{"c":"Sense_organs","x":807,"y":0.22,"s":"u"},{"c":"Sense_organs","x":815,"y":0.19,"s":"d"},{"c":"Sense_organs","x":823,"y":0.21,"s":"u"},{"c":"Sense_organs","x":831,"y":0.17,"s":"u"},{"c":"Sense_organs","x":839,"y":0.2,"s":"d"},
{"c":"Sense_organs","x":785,"y":0.32,"s":"u"},{"c":"Sense_organs","x":793,"y":0.3,"s":"u"},{"c":"Sense_organs","x":801,"y":0.34,"s":"d"},{"c":"Sense_organs","x":809,"y":0.31,"s":"u"},{"c":"Sense_organs","x":817,"y":0.33,"s":"u"},{"c":"Sense_organs","x":825,"y":0.29,"s":"d"},{"c":"Sense_organs","x":833,"y":0.35,"s":"u"},{"c":"Sense_organs","x":841,"y":0.32,"s":"u"},
{"c":"Sense_organs","x":789,"y":0.44,"s":"u"},{"c":"Sense_organs","x":797,"y":0.42,"s":"d"},{"c":"Sense_organs","x":813,"y":0.46,"s":"u"},{"c":"Sense_organs","x":821,"y":0.43,"s":"u"},{"c":"Sense_organs","x":829,"y":0.45,"s":"d"},{"c":"Sense_organs","x":837,"y":0.41,"s":"u"},
{"c":"Other","x":846.7,"y":2.45,"s":"d"},{"c":"Other","x":858,"y":2.39,"s":"u"},{"c":"Other","x":845,"y":1.95,"s":"u"},{"c":"Other","x":862,"y":1.31,"s":"d"},{"c":"Other","x":860.3,"y":0.94,"s":"d"},{"c":"Other","x":854,"y":0.74,"s":"d"},{"c":"Other","x":846,"y":0.45,"s":"u"},{"c":"Other","x":858.4,"y":0.48,"s":"d"},
{"c":"Other","x":852,"y":0.35,"s":"d"},{"c":"Other","x":862,"y":0.21,"s":"u"},{"c":"Other","x":849,"y":0.12,"s":"u"},{"c":"Other","x":851,"y":0.03,"s":"d"},{"c":"Other","x":858,"y":0.3,"s":"d"},{"c":"Other","x":866,"y":0.18,"s":"u"},{"c":"Other","x":845,"y":0.22,"s":"d"},{"c":"Other","x":855,"y":0.08,"s":"d"},{"c":"Other","x":861,"y":0.03,"s":"u"},{"c":"Other","x":864,"y":0.38,"s":"d"}
]},
"layer": [
{"data": {"values": [{}]},
 "mark": {"type": "rule", "color": "#FFAAAA", "strokeWidth": 4},
 "encoding": {"y": {"datum": 4.23, "type": "quantitative", "scale": {"domain": [-0.197, 5.18], "nice": false, "zero": false}}}},
{"data": {"values": [{}]},
 "mark": {"type": "rule", "color": "#AAAAFF", "strokeWidth": 4},
 "encoding": {"y": {"datum": 1.301, "type": "quantitative", "scale": {"domain": [-0.197, 5.18], "nice": false, "zero": false}}}},
{"data": {"name": "pts"},
 "mark": {"type": "point", "filled": true, "opacity": 1, "size": 620, "strokeWidth": 0},
 "encoding": {
  "x": {"field": "x", "type": "quantitative",
        "scale": {"domain": [0, 871], "nice": false, "zero": false},
        "axis": {"title": "Phenotypes", "titleFont": "Liberation Sans", "titleFontSize": 28, "titleFontWeight": "normal", "titleColor": "black",
                 "titleY": 154, "titleBaseline": "alphabetic",
                 "values": [20.6, 95.8, 172.6, 237.7, 305.5, 363.8, 420.4, 445.8, 471.3, 536.9, 605.2, 649.7, 686.8, 709, 752.9, 815.4, 853],
                 "labelExpr": "['Anthropometric','Cardiovascular','Dermatologic','Digestive','Endocrine','Genitourinary','Hematologic','Infectious','Lifestyle','Musculoskeletal','Neoplasms','Neurological','Pregnancy','Psychiatric','Respiratory','Sense_organs','Other'][indexof([20.6,95.8,172.6,237.7,305.5,363.8,420.4,445.8,471.3,536.9,605.2,649.7,686.8,709,752.9,815.4,853], datum.value)]",
                 "labelAngle": 40, "labelAlign": "left", "labelBaseline": "top", "labelFontSize": 22, "labelColor": "black", "labelPadding": 5,
                 "labelOverlap": false, "labelFlush": false, "labelBound": false,
                 "domainColor": "black", "domainWidth": 2, "tickColor": "black", "tickWidth": 2, "tickSize": 5, "grid": false}},
  "y": {"field": "y", "type": "quantitative",
        "scale": {"domain": [-0.197, 5.18], "nice": false, "zero": false},
        "axis": {"title": "-log10(p)", "titleFontSize": 28, "titleFontWeight": "normal", "titleColor": "black",
                 "titleX": -37, "titleBaseline": "alphabetic",
                 "values": [0, 2, 4], "format": "d", "labelFontSize": 19, "labelColor": "black", "labelPadding": 4,
                 "domainColor": "black", "domainWidth": 2, "tickColor": "black", "tickWidth": 2, "tickSize": 5, "grid": false}},
  "color": {"field": "c", "type": "nominal", "legend": null,
            "scale": {"domain": ["Anthropometric","Cardiovascular","Dermatologic","Digestive","Endocrine","Genitourinary","Hematologic","Infectious","Lifestyle","Musculoskeletal","Neoplasms","Neurological","Pregnancy","Psychiatric","Respiratory","Sense_organs","Other"],
                      "range": ["#7F7F7F","#FF0000","#EE9A00","#006400","#A020F0","#FFFF00","#EE3B3B","#FFA500","#0000CD","#CD919E","#FFD700","#B03060","#FF1493","#333333","#0000FF","#FF4500","#000000"]}},
  "shape": {"field": "s", "type": "nominal", "legend": null,
            "scale": {"domain": ["u","d"], "range": ["triangle-up","triangle-down"]}}
 }},
{"data": {"name": "pts"},
 "transform": [{"filter": "datum.n == 'Whether_ever_smoked'"}],
 "mark": {"type": "text", "fontSize": 23.5, "font": "Liberation Sans", "color": "black", "align": "center", "baseline": "middle", "dx": -20, "dy": 13},
 "encoding": {"x": {"field": "x", "type": "quantitative"}, "y": {"field": "y", "type": "quantitative"}, "text": {"field": "n"}}},
{"data": {"name": "pts"},
 "transform": [{"filter": "datum.n == 'Other_congenital_malformations_of_the_digestive_system'"}],
 "mark": {"type": "text", "fontSize": 23.5, "font": "Liberation Sans", "color": "black", "align": "center", "baseline": "middle", "dx": -21, "dy": 18},
 "encoding": {"x": {"field": "x", "type": "quantitative"}, "y": {"field": "y", "type": "quantitative"}, "text": {"field": "n"}}},
{"data": {"name": "pts"},
 "transform": [{"filter": "datum.n == 'heart_arrhythmia'"}],
 "mark": {"type": "text", "fontSize": 23.5, "font": "Liberation Sans", "color": "black", "align": "center", "baseline": "middle", "dx": 37, "dy": -12},
 "encoding": {"x": {"field": "x", "type": "quantitative"}, "y": {"field": "y", "type": "quantitative"}, "text": {"field": "n"}}}
]
}
